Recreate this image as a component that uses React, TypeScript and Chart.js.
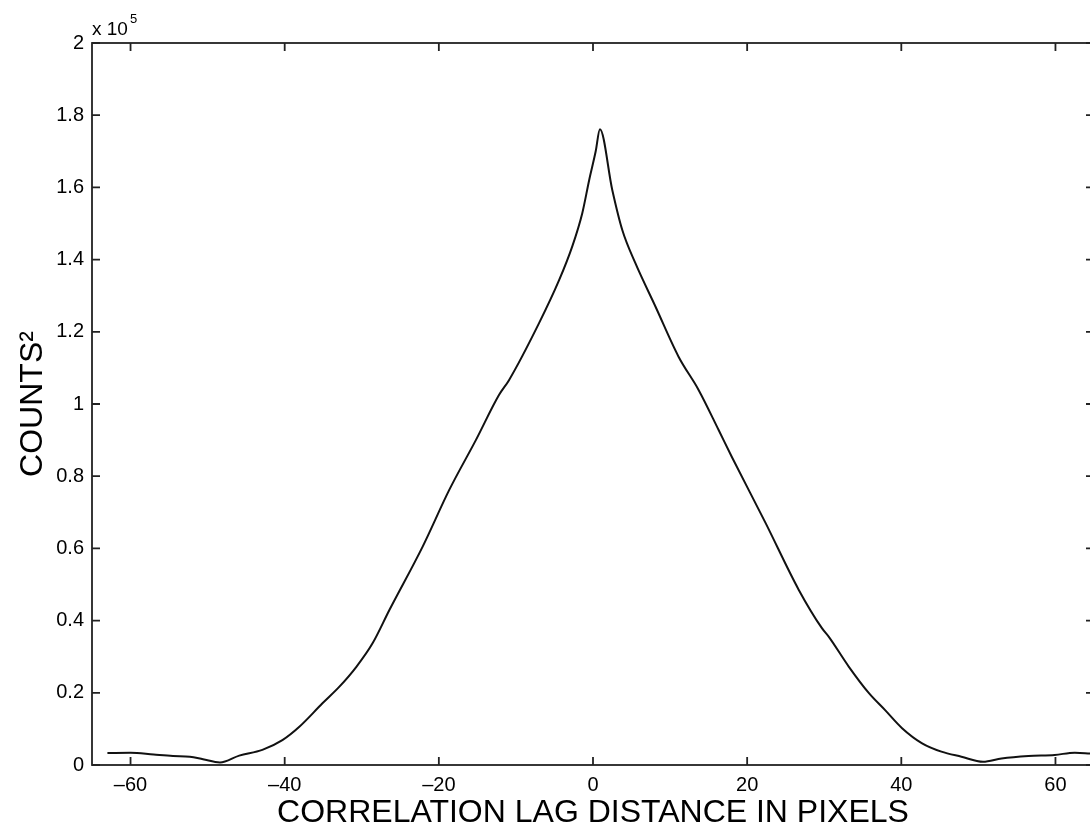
import React, { useEffect, useRef } from "react";
import { Chart, registerables } from "chart.js";

Chart.register(...registerables);

// Correlation lag (pixels)
const lagValues: number[] = [
  -63, -60, -57, -54.5, -52.3, -50.6, -48.4, -45.9, -42.9, -40.3, -38.1, -35.1,
  -32.9, -30.7, -28.6, -26.4, -22.1, -18.65, -15.2, -12.2, -10.9, -7.0, -4.4,
  -2.7, -1.4, -0.5, 0.35, 0.9, 2.5, 3.8, 5.5, 8.1, 11.1, 13.7, 16.3, 18.0, 22.4,
  26.7, 29.7, 30.6, 33.2, 35.8, 37.9, 40.1, 42.7, 45.2, 47.8, 50.6, 53.0, 56.5,
  59.9, 62.5, 64.5,
];
// Counts^2 in units of 1e5
const countValues: number[] = [
  0.033, 0.034, 0.029, 0.025, 0.023, 0.016, 0.007, 0.026, 0.042, 0.069, 0.106,
  0.171, 0.217, 0.272, 0.337, 0.43, 0.605, 0.762, 0.9, 1.025, 1.066, 1.224,
  1.343, 1.436, 1.528, 1.62, 1.7, 1.761, 1.593, 1.482, 1.39, 1.27, 1.131, 1.039,
  0.928, 0.854, 0.67, 0.485, 0.379, 0.355, 0.272, 0.199, 0.152, 0.102, 0.06,
  0.037, 0.023, 0.009, 0.018, 0.025, 0.028, 0.034, 0.032,
];
const xTickValues: number[] = [-60, -40, -20, 0, 20, 40, 60];
const yTickValues: number[] = [0, 0.2, 0.4, 0.6, 0.8, 1, 1.2, 1.4, 1.6, 1.8, 2];

const xTitle = "CORRELATION LAG DISTANCE IN PIXELS";
const yTitle = "COUNTS²";

const FONT = "'Liberation Sans', Arial, Helvetica, sans-serif";

const frameTicks = {
  id: "frameTicks",
  afterDraw(chart: any) {
    const { ctx, chartArea } = chart;
    const { left, right, top, bottom } = chartArea;
    const xs = chart.scales.x;
    const ys = chart.scales.y;
    ctx.save();
    ctx.strokeStyle = "#222";
    ctx.lineWidth = 1.8;
    ctx.strokeRect(left, top, right - left, bottom - top);
    const len = 8;
    ctx.beginPath();
    xs.ticks.forEach((t: any) => {
      const px = xs.getPixelForValue(t.value);
      ctx.moveTo(px, bottom);
      ctx.lineTo(px, bottom - len);
      ctx.moveTo(px, top);
      ctx.lineTo(px, top + len);
    });
    ys.ticks.forEach((t: any) => {
      const py = ys.getPixelForValue(t.value);
      ctx.moveTo(left, py);
      ctx.lineTo(left + len, py);
      ctx.moveTo(right, py);
      ctx.lineTo(right - len, py);
    });
    ctx.stroke();
    // exponent label
    ctx.fillStyle = "#000";
    ctx.textBaseline = "alphabetic";
    ctx.textAlign = "left";
    ctx.font = `19px ${FONT}`;
    ctx.fillText("x 10", left, top - 8);
    const w = ctx.measureText("x 10").width;
    ctx.font = `13px ${FONT}`;
    ctx.fillText("5", left + w + 2, top - 20);
    ctx.restore();
  },
};

export default function App() {
  const ref = useRef<HTMLCanvasElement | null>(null);
  useEffect(() => {
    if (!ref.current) return;
    const data = lagValues.map((x, i) => ({ x, y: countValues[i] }));
    const chart = new Chart(ref.current, {
      type: "line",
      data: {
        datasets: [
          {
            data,
            borderColor: "#111",
            borderWidth: 2,
            pointRadius: 0,
            cubicInterpolationMode: "monotone",
            fill: false,
          },
        ],
      },
      options: {
        animation: false,
        responsive: false,
        devicePixelRatio: 1,
        layout: { padding: { top: 43, right: 6, left: 0, bottom: 0 } },
        plugins: { legend: { display: false }, tooltip: { enabled: false } },
        scales: {
          x: {
            type: "linear",
            min: -65,
            max: 65,
            afterBuildTicks: (s: any) => {
              s.ticks = xTickValues.map((v) => ({ value: v }));
            },
            afterFit: (s: any) => {
              s.height = 62;
            },
            grid: { display: false, drawTicks: false },
            border: { display: false },
            ticks: {
              color: "#000",
              font: { family: FONT, size: 20 },
              padding: 8,
              maxRotation: 0,
              callback: (v: any) => String(v).replace("-", "\u2013"),
            },
            title: {
              display: true,
              text: xTitle,
              color: "#000",
              font: { family: FONT, size: 32 },
              padding: { top: 0, bottom: -5 },
            },
          },
          y: {
            type: "linear",
            min: 0,
            max: 2,
            afterBuildTicks: (s: any) => {
              s.ticks = yTickValues.map((v) => ({ value: v }));
            },
            afterFit: (s: any) => {
              s.width = 92;
            },
            grid: { display: false, drawTicks: false },
            border: { display: false },
            ticks: {
              color: "#000",
              font: { family: FONT, size: 20 },
              padding: 8,
              callback: (v: any) => String(Math.round(v * 10) / 10),
            },
            title: {
              display: true,
              text: yTitle,
              color: "#000",
              font: { family: FONT, size: 32 },
              padding: { top: 14, bottom: 0 },
            },
          },
        },
      },
      plugins: [frameTicks],
    });
    return () => chart.destroy();
  }, []);
  return (
    <div
      style={{
        position: "fixed",
        left: 0,
        top: 0,
        width: 1090,
        height: 827,
        overflow: "hidden",
        background: "#fff",
      }}
    >
      <canvas ref={ref} width={1100} height={827} style={{ display: "block" }} />
    </div>
  );
}
